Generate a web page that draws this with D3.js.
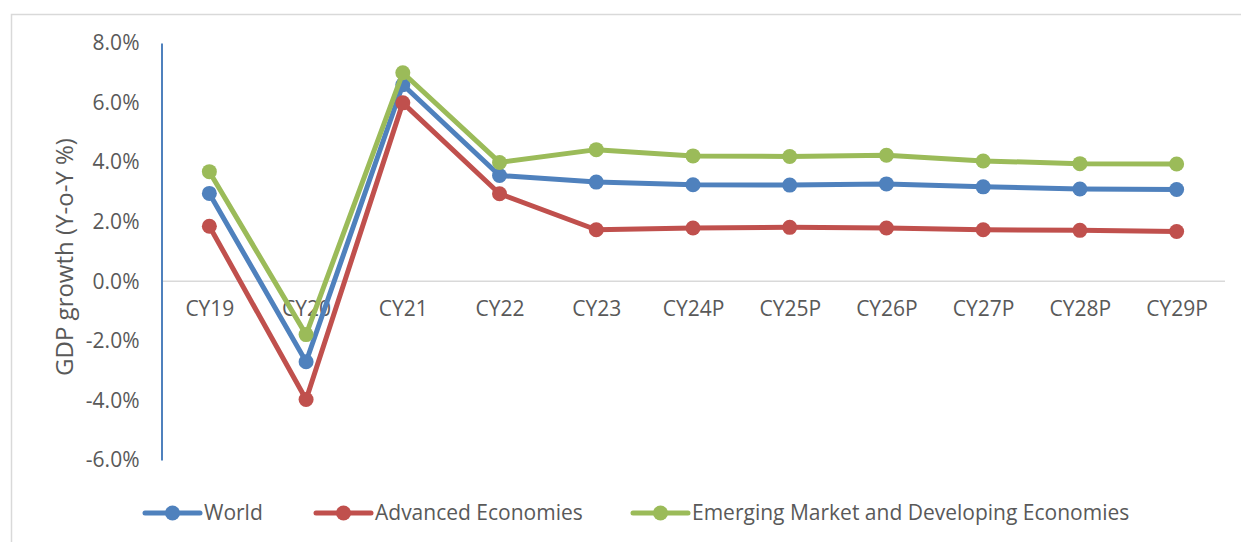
<!DOCTYPE html>
<html>
<head>
<meta charset="utf-8">
<script src="https://cdn.jsdelivr.net/npm/d3@7"></script>
<style>
  body { margin: 0; background: #fff; }
  svg { display: block; font-family: "Open Sans", sans-serif; }
</style>
</head>
<body>
<div id="chart"></div>
<script>
// categories and series (GDP growth, % y-o-y)
const years = ['CY19', 'CY20', 'CY21', 'CY22', 'CY23', 'CY24P', 'CY25P', 'CY26P', 'CY27P', 'CY28P', 'CY29P'];
const world = [2.95, -2.7, 6.6, 3.55, 3.33, 3.24, 3.23, 3.27, 3.17, 3.1, 3.08];
const advanced = [1.85, -3.97, 5.99, 2.94, 1.73, 1.79, 1.81, 1.79, 1.73, 1.71, 1.67];
const emerging = [3.68, -1.79, 7.0, 3.99, 4.42, 4.21, 4.19, 4.23, 4.04, 3.95, 3.94];
const yTicks = [-6, -4, -2, 0, 2, 4, 6, 8];

const seriesNames = ['World', 'Advanced Economies', 'Emerging Market and Developing Economies'];
const seriesColors = ['#4f81bd', '#c0504d', '#9bbb59'];
const seriesValues = [world, advanced, emerging];

const width = 1241;
const height = 542;

const svg = d3.select('#chart').append('svg')
    .attr('width', width)
    .attr('height', height);

// chart frame
svg.append('rect')
    .attr('x', 11.5)
    .attr('y', 14.5)
    .attr('width', width + 20)
    .attr('height', height + 20)
    .attr('fill', 'none')
    .attr('stroke', '#d9d9d9')
    .attr('stroke-width', 1.5);

const x = d3.scalePoint()
    .domain(years)
    .range([161, 1225])
    .padding(0.5);

const y = d3.scaleLinear()
    .domain([-6, 8])
    .range([460, 43]);

// zero line
svg.append('line')
    .attr('x1', 161)
    .attr('x2', 1225)
    .attr('y1', y(0))
    .attr('y2', y(0))
    .attr('stroke', '#d9d9d9')
    .attr('stroke-width', 1.5);

// y axis
const yAxis = svg.append('g')
    .attr('transform', 'translate(161.5,0)')
    .call(d3.axisLeft(y).tickValues(yTicks).tickSize(0).tickPadding(22)
        .tickFormat(d => d.toFixed(1) + '%'));
yAxis.select('.domain').attr('stroke', '#4f81bd').attr('stroke-width', 2);
yAxis.selectAll('text')
    .attr('fill', '#595959')
    .style('font-size', '21px')
    .style('font-family', '"Open Sans", sans-serif');

// category labels
const xAxis = svg.append('g')
    .attr('transform', 'translate(0,' + y(0) + ')')
    .call(d3.axisBottom(x).tickSize(0).tickPadding(20));
xAxis.select('.domain').remove();
xAxis.selectAll('text')
    .attr('fill', '#595959')
    .style('font-size', '21px')
    .style('font-family', '"Open Sans", sans-serif');

// axis title
svg.append('text')
    .attr('transform', 'translate(73,257) rotate(-90)')
    .attr('text-anchor', 'middle')
    .attr('fill', '#595959')
    .style('font-size', '24px')
    .text('GDP growth (Y-o-Y %)');

const line = d3.line()
    .x((d, i) => x(years[i]))
    .y(d => y(d));

seriesValues.forEach((vals, s) => {
    const g = svg.append('g');
    g.append('path')
        .datum(vals)
        .attr('d', line)
        .attr('fill', 'none')
        .attr('stroke', seriesColors[s])
        .attr('stroke-width', 5)
        .attr('stroke-linejoin', 'round')
        .attr('stroke-linecap', 'round');
    g.selectAll('circle')
        .data(vals)
        .join('circle')
        .attr('cx', (d, i) => x(years[i]))
        .attr('cy', d => y(d))
        .attr('r', 7.5)
        .attr('fill', seriesColors[s]);
});

// legend
const legendX = [145, 316, 633];
const legend = svg.append('g');
seriesNames.forEach((name, s) => {
    const lg = legend.append('g').attr('transform', 'translate(' + legendX[s] + ',513)');
    lg.append('line')
        .attr('x1', 0).attr('x2', 55)
        .attr('stroke', seriesColors[s])
        .attr('stroke-width', 5)
        .attr('stroke-linecap', 'round');
    lg.append('circle')
        .attr('cx', 27.5)
        .attr('r', 7.5)
        .attr('fill', seriesColors[s]);
    lg.append('text')
        .attr('x', 59)
        .attr('dy', '0.35em')
        .attr('fill', '#595959')
        .style('font-size', '21px')
        .text(name);
});
</script>
</body>
</html>
